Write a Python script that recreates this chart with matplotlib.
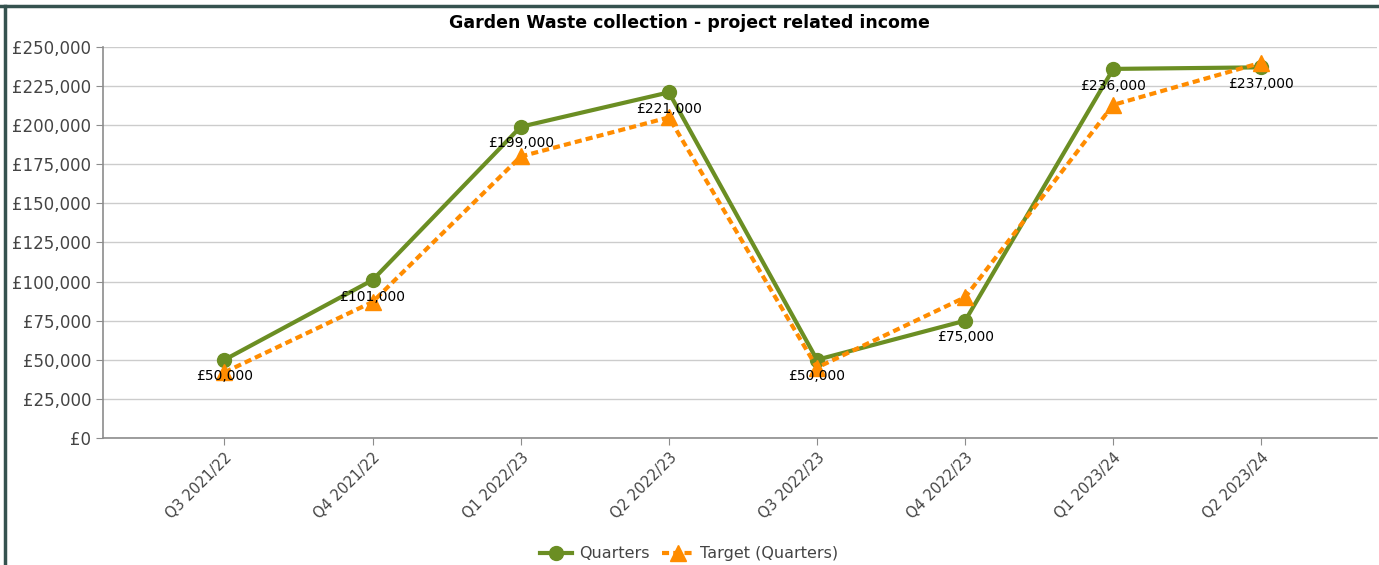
import matplotlib.pyplot as plt
from matplotlib.lines import Line2D
from matplotlib.ticker import FuncFormatter

quarters = ["Q3 2021/22", "Q4 2021/22", "Q1 2022/23", "Q2 2022/23",
            "Q3 2022/23", "Q4 2022/23", "Q1 2023/24", "Q2 2023/24"]
income = [50000, 101000, 199000, 221000, 50000, 75000, 236000, 237000]
target = [42000, 87000, 180000, 205000, 45000, 90000, 213000, 240000]

green = "#6b8e23"
orange = "#ff8c00"

fig = plt.figure(figsize=(13.79, 5.65), dpi=100)
ax = fig.add_axes([0.0747, 0.2248, 0.9238, 0.692])

x = list(range(len(quarters)))
ax.plot(x, income, color=green, lw=3, marker="o", ms=10, label="Quarters", zorder=3)
ax.plot(x, target, color=orange, lw=3, ls=(0, (1.7, 1)), marker="^", ms=11,
        label="Target (Quarters)", zorder=4)

# value labels under the actual figures
for i, v in zip(x, income):
    ax.annotate(f"£{v:,}", (i, v), textcoords="offset points", xytext=(0, -12),
                ha="center", va="center", fontsize=10, color="black", zorder=5)

ax.set_xlim(-0.82, 7.78)
ax.set_ylim(0, 250000)
ax.set_yticks(range(0, 250001, 25000))
ax.yaxis.set_major_formatter(FuncFormatter(lambda v, p: f"£{int(v):,}"))
ax.set_xticks(x)
ax.set_xticklabels(quarters, rotation=45, ha="right", rotation_mode="anchor")

ax.grid(axis="y", color="#cccccc", lw=1)
ax.set_axisbelow(True)
for s in ["top", "right"]:
    ax.spines[s].set_visible(False)
for s in ["left", "bottom"]:
    ax.spines[s].set_color("#8c8c8c")
    ax.spines[s].set_linewidth(1.2)
ax.tick_params(axis="y", colors="#8c8c8c", labelcolor="#444444", labelsize=12, length=5)
ax.tick_params(axis="x", colors="#8c8c8c", labelcolor="#444444", labelsize=10.5, length=5)

fig.text(0.5, 0.96, "Garden Waste collection - project related income",
         ha="center", va="center", fontsize=12.5, fontweight="bold")

fig.legend(loc="center", bbox_to_anchor=(0.5, 0.02), ncol=2, frameon=False,
           fontsize=11.5, labelcolor="#444444", handlelength=2, columnspacing=0.8,
           handletextpad=0.4)

# dark frame at top and left
fig.add_artist(Line2D([0, 1], [0.9885, 0.9885], color="#35524f", lw=2.5,
                      transform=fig.transFigure))
fig.add_artist(Line2D([0.0033, 0.0033], [0, 0.99], color="#35524f", lw=2.5,
                      transform=fig.transFigure))

fig.savefig("out.png", dpi=100)
